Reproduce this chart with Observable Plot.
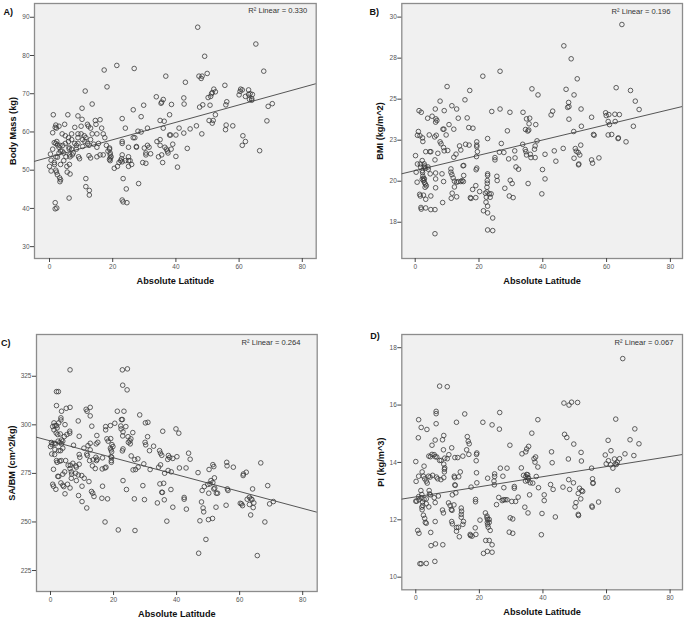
<!DOCTYPE html>
<html>
<head>
<meta charset="utf-8">
<script src="https://cdn.jsdelivr.net/npm/d3@7"></script>
<script src="https://cdn.jsdelivr.net/npm/@observablehq/plot@0.6"></script>
<style>
  body { margin: 0; background: #fff; }
  #wrap { position: relative; width: 686px; height: 621px; background: #fff; font-family: "Liberation Sans", Arial, sans-serif; }
  .panel { position: absolute; }
  .panel svg { overflow: visible; }
</style>
</head>
<body>
<div id="wrap"></div>
<script>
// ---------- DATA ----------
const xTicks = [0, 20, 40, 60, 80];
const xTitle = "Absolute Latitude";

// A) Body mass (kg) vs absolute latitude: [latitude, value]
const massPoints = [
[0.3,54.2],[0.5,52.6],[0,51.0],[0.5,49.8],[1,55.5],[1,59.8],[1.2,64.5],[1.5,57.2],[1.5,52],[1.6,51.5],
[1.8,61.2],[2,61.8],[2.2,61],[2.3,57.5],[2,57],[2.5,56.6],[2,53.5],[2.5,53.4],[2,50],[2.2,49.5],[2.5,48.8],[1.8,41.5],[1.8,39.9],[2.3,40.1],
[3,61.5],[3,56],[3.3,56.5],[3.5,55],[3,54.5],[3.5,51.5],[3.2,48],[3.5,47.5],[3.3,47],[4,59.5],[4.2,56.5],[4,55],[4.5,54.5],[4.5,52.5],
[4.8,62],[5,59],[5,57],[5.2,53.5],[5.5,51],[5.6,49.5],[5.8,64.5],[6,58.5],[6,57.5],[6.2,56],[6.2,55.6],[6.4,54],[6.5,53.5],[6.3,51.5],[6.5,49],[6.2,42.7],
[7,59.5],[7,58],[7,55.5],[7.5,54.5],[7.2,54],[8,61.2],[8,57],[8.5,56.5],[8.5,55.5],[9,64.2],[9,59.5],[9,58.5],[9,57],[9.2,53.5],[9.5,53],
[10,61.5],[10,59.5],[10.5,58],[10.5,56.2],[10.3,63.3],[10.3,66.2],[11,59],[11.2,57.5],[11.5,58.5],[11.5,47.8],[11.5,45.7],[11.3,70.7],
[12,62],[12,57],[12.3,61.5],[12.5,56.5],[12.5,53.8],[12.6,44.7],[12.6,43.5],[13,61],[13,58],[13,53.2],[13.5,67.3],[13.5,59.5],[14,56.8],
[14.5,63],[14.7,62],[15,59.5],[15,56],[15,53.5],[15.5,57],[16,63.2],[16,54],[16.5,61],[17,59.5],[17,54],[17.5,58.5],[18,56.5],[17.3,76.2],[18.2,71.8],
[18.5,55],[19,55.8],[19,55.5],[19.2,54.5],[19.2,54],[19.2,53.2],[19.2,52.5],[19,52.8],[19.5,53.5],
[20.5,50.5],[21.3,77.4],[21.5,51],[22,52],[22.5,52.5],[22.8,53],[23,63.5],[23,57.5],[23,57],[23,54],[23,52.2],[23,42.2],[23.3,41.7],[23.3,47.8],
[24,61],[24,52.5],[24.3,45.1],[24.5,41.5],[25,56],[25,53.5],[25,52.5],[25,51],[25.5,52.5],[26,51.5],
[26.5,65.8],[26.5,58.5],[26.8,76.6],[27,58.5],[27.5,56.2],[27.5,56],[28,60.2],[28.2,46.5],[29,64],[29,60],[29.5,52],[29.8,67],[30,55.8],
[30.5,54.5],[30.5,54],[30.5,51.8],[31,61],[31,56.5],[31.5,56],[32,54.3],
[33.8,69.2],[34,57.5],[34.5,53.5],[35,63],[35,58],[35,56.5],[35.5,67.8],[35.3,67.5],[35.5,54],[35.8,52],[36,68.5],[36,61],[36.3,62.8],[36.5,56],
[36.8,74.6],[37,55.5],[37.3,55],[37.5,54.5],[38,64.5],[38,59.2],[38.3,59.2],[38.5,55.5],[38.6,67.2],[39,56.8],[40,53.6],[40,59.2],[40.5,50.8],[41,61],
[42.5,68.9],[42.6,67.3],[42.5,59.7],[43,73],[43.6,55.7],[44.5,60.8],[46.9,87.4],[46.5,61.6],[47.3,74.6],[47.5,66.5],[48,74],[48.3,74.6],[48.2,59.5],
[48.5,67.1],[49.1,79.8],[49.9,75.3],[50.2,69],[50.5,63],[50.8,67],[51,69.3],[51.3,70],[51.5,62.3],[51.8,63],[51.5,70.3],[52,71.2],[52.5,70.5],[52.5,64.5],
[55.5,72.2],[55.8,67.1],[55.9,61.8],[55.7,60.6],[56.1,67.9],[58,61.6],[60,69.7],[60.3,70.6],[60.5,71.2],[61,71],[61.2,59],[61,56.5],[62,57.5],
[62,69.3],[63,71],[63,69.8],[63.3,68.5],[63.5,70],[64,68.7],[64,68.3],[64.2,69.8],[65.3,83],[66.5,55.1],[67.8,75.9],[68.8,62.9],[69.2,66.7],[70.5,67.4]
];
const massTicks = [30, 40, 50, 60, 70, 80, 90];
const massFit = { intercept: 53.4, slope: 0.228 };
const massR2 = "0.330";

// B) BMI (kg/m^2) vs absolute latitude
const bmiPoints = [
[64.8,29.55],[46.6,28.25],[48.9,27.46],[26.6,26.7],[21.2,26.4],[50.8,26.24],[10,25.77],[36.6,25.63],[47.3,25.6],[63,25.7],[67.5,25.53],
[17.1,25.53],[49.8,25.26],[38.5,25.26],[15.6,24.96],[7.8,24.88],[69,24.88],[48.1,24.8],[48.2,24.55],[47.8,24.5],[11.5,24.6],[1.2,24.3],[1.9,24.2],
[13,24.4],[6.3,24.4],[9.1,24.3],[26.6,24.4],[24,24.25],[29.7,24.2],[33.8,24.2],[43.1,24.27],[42.6,24.04],[52,24.4],[70.2,24.37],
[59.7,24.17],[60.7,24.06],[62.6,24.08],[64,24.06],[59.9,24.0],[55.3,23.9],[5.3,23.96],[6.5,23.8],[6.8,23.7],[6.4,23.6],[3.9,23.84],[13.5,23.84],
[16.3,23.86],[48.2,23.78],[34.9,23.8],[35.9,23.84],[10.6,23.45],[8.7,23.17],[9.0,23.17],[12.1,23.17],[16.8,23.27],[18.1,23.23],[34.6,23.15],
[35.7,23.5],[35.6,23.12],[35.3,23.06],[37.8,23.45],[28.9,23.07],[49.7,23.03],[52.1,23.35],[60.5,23.64],[60.9,23.45],[62.7,23.64],[68.4,23.35],
[1,23.03],[0.7,22.8],[6.6,22.8],[6.1,22.7],[1.5,22.77],[4.4,22.82],[9.7,22.82],[55.9,22.85],[56.1,22.8],[60.5,22.82],[61.6,22.85],[63.7,22.64],[66.1,22.4],
[2.3,22.64],[2.4,22.42],[7.8,22.4],[8.1,22.28],[8.9,22.05],[9.1,21.85],[10.2,21.87],[4.6,21.8],[4.9,21.8],[3.3,21.8],[7.1,21.7],[13.9,22.15],
[14.3,21.9],[12.8,21.65],[12.1,21.46],[15.8,22.25],[16.9,22.2],[19.3,22.4],[19.3,22.2],[19.3,22.1],[19.5,21.8],[19.2,21.5],[22.7,22.6],[27,22.3],
[27.8,21.75],[25,21.44],[25,21.3],[26.4,21.77],[29.3,21.36],[31.2,21.85],[31.3,21.42],[33.7,22.25],[34.5,21.93],[34.7,21.8],[34.9,21.6],[36.1,21.64],
[36.3,21.44],[37.6,22.15],[37.4,21.95],[37.6,21.44],[38.2,22.46],[40.7,21.64],[43.6,21.85],[44.1,21.22],[46.4,22.0],[50.2,21.99],[50.5,21.83],
[49.8,21.4],[51.1,21.75],[51.6,21.6],[51.3,21.05],[51.2,21.0],[51.9,22.2],[57.6,21.42],[55.3,21.3],[55.6,21.1],[63.6,22.6],
[0.1,21.56],[0.7,21.05],[0.3,20.55],[1.6,21.05],[1.7,20.85],[2.2,21.26],[2.8,21.06],[3.0,20.93],[2.8,20.85],[3.2,20.79],[4,20.87],[4.1,20.73],[4.7,20.45],
[2.2,20.65],[2.3,20.53],[2.4,20.31],[2.6,20.18],[2.2,20.12],[2.6,20.04],[2.9,20.14],[2.9,19.92],[3.2,19.82],[3.5,19.72],[3.1,19.63],
[0.6,19.94],[1.4,19.2],[1.6,19.1],[2.6,19.15],[1.8,18.4],[1.9,18.3],[3.3,18.37],[4.9,18.27],[6.2,18.27],[4.9,19.1],[3.3,18.9],
[6.4,20.5],[6.4,20.14],[6.4,19.6],[6.2,21.3],[8.4,20.45],[8.9,19.98],[8.6,18.7],[11.2,20.75],[11.2,20.55],[11.5,20.4],[11.6,19.27],[11.3,18.96],
[11.9,20.2],[12.3,20.0],[13,19.94],[13.5,19.98],[14.3,19.98],[14.7,20.04],[15.1,19.98],[15.2,20.35],[13,19.05],[12.3,19.65],[15.2,20.96],[15.0,20.94],
[17.3,19.0],[17.5,18.95],[18,19.5],[19,19.73],[19,19.0],[19.3,20.8],[19.1,20.7],[20.2,19.37],[21.4,18.2],[22.0,19.27],[22.3,19.03],[22.7,20.45],[22.7,20.35],
[22.6,20.04],[22.6,19.88],[22.5,19.63],[22.5,19.35],[22.2,18.72],[22.7,18.48],[22.7,18.07],[23.5,19.02],[23.2,19.23],[23.8,19.23],
[24.3,17.76],[22.7,17.03],[24.3,16.99],[6.2,16.8],[25.7,20.04],[25.6,20.3],[28.1,19.57],[29.8,20.06],[29.5,19.1],[30.7,19.0],[30.4,19.86],
[31.6,20.87],[32.4,20.73],[35.4,19.86],[39.7,19.23],[39.9,20.71],[40.7,20.14]
];
const bmiTicks = [17.5, 20, 22.5, 25, 27.5, 30];
const bmiTickLabels = ["18", "20", "23", "25", "28", "30"];
const bmiFit = { intercept: 20.65, slope: 0.0466 };
const bmiR2 = "0.196";

// C) SA/BM (cm^2/kg) vs absolute latitude
const sabmPoints = [
[6.2,328.3],[22.8,328.3],[24.4,328.8],[22.9,320.4],[24.3,318],[1.9,317.1],[2.5,317.1],[1.9,309.9],[6.2,309],[5,308.5],[3.5,307],
[11.3,308],[11.6,307],[12.6,309],[12.6,304.6],[21.2,307],[23.3,307],[28.3,305.1],[3.3,303.6],[3.3,302.5],[8.8,302],[22.5,302.7],[22.8,302.7],
[30.1,301],[30.9,301.3],[20.4,300.8],[19,299.6],[17.5,299.1],[17.5,297.4],[22.3,299.4],[23.9,299.1],[13.1,299.3],
[1.1,301],[1.4,299.6],[1.9,299.6],[2.1,298.4],[2.6,301],[0.7,299.1],[1.1,297.4],[4.6,300.1],[39.8,297.9],[40.7,295.7],[35.6,296.7],
[6.1,296.7],[6.1,295.7],[22.4,297.9],[23,296.4],[22.9,294.3],[26.1,296],[1.8,295.8],[2.3,295],[3.1,295.3],[4.4,294],[5.2,295],[9.1,294.1],[14.7,294.5],
[24.6,293.9],[25.5,292.8],[25.2,291.7],[24.7,291.0],[25.3,290.2],[30.8,293.9],[17.9,292.8],[19.1,292.9],[18.3,291.6],
[0.3,290.9],[1.2,290.5],[1.6,290.2],[2.4,291.6],[3,290.9],[3.5,292.2],[3.5,290.2],[3.9,291.6],[0,288.8],[0.5,289.8],[15,291],[14.5,290.2],
[12.6,290.5],[19.5,289.8],[19.8,288.8],[30,291],[30.2,289.7],[32.7,289],[7.3,289.5],[11.9,289.3],[1.4,287.3],[3.9,288],[10.6,288],[12.6,287.1],
[19,288],[19.2,287.1],[19.4,286.1],[23,287.6],[22.8,286.6],[31.4,286.7],[34.6,286.7],[34.9,285.4],[35.3,284.3],[43.8,285.4],[25.6,284],
[0.4,285],[1.3,284.7],[2.6,286.7],[3.2,286.7],[9.1,284.7],[9.3,283.3],[11.5,285],[11.7,284.2],[14.4,283.3],[14.8,282.3],[14.6,281.6],[16.5,283],
[13.5,282],[19.4,283.3],[19.2,283.6],[37.4,284.2],[37.8,283.2],[37.2,282.2],[38.8,282.7],[40.1,283.6],[44.3,282.3],[26.7,282.1],[19.3,281.6],[19.3,280.7],
[1.9,281.6],[3.4,281.6],[2.9,281.3],[4.8,281.6],[2.1,280.7],[12.4,281.6],[27.7,282.5],[29.6,279.9],[34.9,279.4],[34.3,278.2],[27.8,278.2],[31.6,277],
[27,277],[26.2,276.8],[40.9,277.8],[43,277.8],[37.3,276.5],[38.3,275.8],[36.2,275.1],[0.95,277.1],[7.1,280.2],[6.3,279.2],[8,278.9],[8.2,278.2],
[6.2,277.5],[9.1,279.7],[5.6,279.2],[13.3,278.9],[14.2,277.5],[17.3,277.8],[17.6,278.2],[16.4,277.3],[4.5,275.8],[3.9,274.6],[6.6,275.8],[6.7,274.6],
[8,275.1],[8.8,274.2],[9.9,273.9],[8.2,271.3],[10.7,272.5],[12.2,270.8],[2.3,273.5],[2.6,273.4],[6.6,272.5],[3.3,270.1],[0.7,269.4],[0.95,268.4],[1.7,266.8],
[5.4,269.4],[10,268.4],[13,265.7],[13.4,264.8],[13.8,263.1],[23,271.3],[16.5,268.4],[16.3,262.2],[18.1,261.9],[24.1,266.7],[26.6,261.9],[29.8,261.5],
[29.3,268.7],[34.7,269.6],[35.9,269.9],[35.3,265.3],[35.5,265.2],[38.2,266.7],[36.1,261.4],[33.9,259.8],[36.9,250.4],[38.8,257.6],[42.4,262.6],[42.4,261.7],
[43.1,256.6],[46.8,275.4],[48.8,268.2],[48.1,266.2],[47.9,260.3],[48.4,257.2],[48.6,255.2],[47.4,250.6],[50.1,251.2],[51.4,251.8],[49.3,241],[47,233.9],
[50.3,277],[51.5,279.5],[51.8,278.5],[52,272.7],[50.9,271.3],[51.5,270.3],[50.6,269.6],[49.9,269.3],[52.1,267.4],[52.6,264.8],[53,264.8],[51.8,267],
[50.2,264.8],[52.5,257.6],[55.9,280.7],[56,278.9],[58,278.2],[56.1,267],[56.3,266.2],[55.7,258.6],[60.2,259.6],[60.6,259.3],[60.9,258.4],
[61.2,274.7],[61.1,273.9],[62.1,275.6],[62.4,261.7],[63.1,262.7],[63.6,261.9],[63.1,259],[63.9,261.5],[64.5,259.8],[64.3,257.4],[63.5,253.6],
[64.1,267],[66.7,280.4],[68,250],[65.6,232.7],[68.9,268.7],[69.5,259.3],[70.7,260.5],[21.5,245.9],[26.8,245.6],[17.3,250],[11.5,257.2],
[10,260.5],[8.9,263.6],[6.2,267.5],[4.6,264.5],[4.2,268.2],[3.9,268.9]
];
const sabmTicks = [225, 250, 275, 300, 325];
const sabmFit = { intercept: 291.7, slope: -0.434 };
const sabmR2 = "0.264";

// D) PI (kg/m^3) vs absolute latitude
const piPoints = [
[65.1,17.62],[7.5,16.66],[9.9,16.64],[46.6,16.07],[48.2,16.0],[49,16.1],[50.9,16.09],[6.4,15.78],[6.4,15.7],[26.4,15.74],[15.4,15.69],
[0.9,15.49],[1.7,15.22],[3.5,15.15],[12.8,15.4],[21.1,15.4],[24,15.31],[6.4,15.35],[38.4,15.49],[62.9,15.51],[68.9,15.17],[70.2,14.65],[67.4,14.79],
[0.8,14.86],[5.1,14.6],[6.1,14.78],[8.4,14.79],[8.8,14.94],[8.7,14.44],[11.3,14.51],[16.2,14.9],[16.5,14.74],[16.8,14.65],[16,14.44],[26.3,15.16],
[29.6,14.6],[35.5,14.56],[34.9,14.47],[36.5,15.02],[46.8,14.98],[47.5,14.87],[49.7,14.64],[60.5,14.77],[61.4,14.41],[0,14.03],
[4.1,14.22],[4.6,14.2],[5.1,14.28],[5.8,14.27],[6.1,14.2],[6.6,14.19],[8,14.07],[7.5,14.07],[9.1,14.15],[8.8,13.94],[9.1,13.81],[10.4,14.27],[9.9,14.13],
[12.3,14.17],[13.2,14.17],[14.8,14.22],[16.7,14.28],[19.2,14.33],[19.1,14.28],[19,14.06],[33.4,14.3],[34.6,14.37],[37.2,14.13],[37.7,14.19],[37.5,14.01],
[42.7,14.37],[42.9,13.99],[48,14.12],[52,14.35],[52.1,14.05],
[59.6,14.26],[59.9,13.95],[60.6,14.06],[62.5,14.12],[62.8,13.95],[64.1,14.13],[63.4,14.01],[63.1,13.93],[61.3,13.92],[62,13.8],[68.6,14.24],[65.8,14.3],
[0.9,13.52],[2.6,13.87],[2,13.67],[2.4,13.52],[2.8,13.43],[3.3,13.35],[3.6,13.28],[0.1,13.34],[4,13.52],[4.5,13.49],[5.3,13.55],[6.5,13.49],[6.9,13.43],
[7.9,13.4],[8.8,13.47],[9,13.76],[9,13.67],[12.1,13.52],[12.2,13.47],[13.5,13.5],[14,13.67],[12.3,13.22],[12.4,13.2],[12.6,12.94],[4.2,13.02],[4.3,12.9],
[1.6,13.02],[1.9,12.88],[19.1,13.64],[19.2,13.29],[17.4,13.14],[22.6,13.45],[24.8,13.6],[24.8,13.51],[24.6,13.35],[24.7,13.22],[26.6,13.8],[27.4,13.52],
[28.7,13.8],[27.7,13.12],[31,13.16],[31,13.1],[33.2,13.81],
[33.9,13.55],[34.6,13.51],[34.9,13.58],[35.2,13.47],[35.2,13.37],[35.5,13.45],[35.2,13.57],[34.5,13.35],[36,13.29],[36.8,13.28],[37.9,13.51],
[38.4,13.84],[38.6,13.12],[42.4,13.23],[43.2,13.06],[46.3,13.14],[48.1,13.4],[48.4,13.06],[49.6,13.29],[51.5,13.1],[51.1,12.92],[52.2,13.02],[52.5,12.99],
[55.6,13.43],[55.8,13.29],[55.7,13.27],[55.3,13.8],[63.5,13.03],
[0,12.65],[0.3,12.65],[0.9,12.81],[1,12.7],[1.7,12.77],[2.1,12.62],[2.2,12.5],[2.6,12.72],[3.3,12.73],[3.3,12.56],[1.9,12.44],[2,12.35],
[2.4,12.16],[2.8,12.05],[3,11.91],[3.3,11.88],[4.1,12.45],[4.6,12.87],[5.8,12.77],[6.1,12.6],[7.1,12.83],[8.4,12.34],[8.7,12.24],
[10.3,12.59],[10.8,12.5],[11.2,12.36],[12,12.52],[11.4,12.33],[11.5,12.87],[11.3,11.94],[11.5,11.86],[14.3,12.41],[14.4,12.3],[14.3,12.19],[14.3,12.09],
[12.8,11.73],[12.8,11.6],[13.4,11.74],[15,11.94],[14.8,11.84],[18.8,12.71],[18.8,12.63],[18.7,11.72],[17.1,11.49],[17.2,11.45],[17.7,11.43],[18.9,11.49],
[20.2,11.99],[21.9,12.24],[22.4,12.13],[22.6,12.01],[22.5,11.91],[22.6,11.83],[22.8,11.74],[22.4,12.07],[23.1,12.01],[23.1,11.91],[23.4,11.63],
[22,11.28],[23.1,11.28],[24,11.13],[21.3,10.83],[22.5,10.9],[24,10.87],[25.4,12.53],[26.1,12.78],[27.2,12.67],[27.6,12.7],[28.1,12.7],[28.7,12.7],
[30.2,12.64],[31.4,12.64],[32.2,12.79],[29.7,12.07],[30.5,12.03],[29.4,11.57],[30.5,11.53],[34.3,12.44],[35.3,12.24],[35.8,12.87],[39.7,12.22],
[40.4,12.87],[40.4,12.67],[43.9,12.1],[39.5,11.48],[50.1,12.45],[50.4,12.6],[51.1,12.19],[51.2,12.15],[51.9,12.73],[55.4,12.48],[55.5,12.44],[57.5,12.62],
[0.6,11.63],[1,11.53],[4.7,11.56],[4.8,11.1],[6.2,11.16],[8.5,11.13],[1.3,10.47],[1.7,10.47],[3.3,10.48],[6,10.55],[13.7,11.41],[6.1,11.94]
];
const piTicks = [10, 12, 14, 16, 18];
const piFit = { intercept: 12.8, slope: 0.0176 };
const piR2 = "0.067";

// ---------- DRAWING ----------
const FONT = '"Liberation Sans", Arial, Helvetica, sans-serif';

function panel(cfg) {
  const fitLine = cfg.xDomain.map(x => ({x, y: cfg.fit.intercept + cfg.fit.slope * x}));
  const fmt = cfg.tickLabels ? (d => cfg.tickLabels[cfg.yTicks.indexOf(d)]) : (d => String(d));
  const svg = Plot.plot({
    width: cfg.w, height: cfg.h,
    marginLeft: cfg.m[3], marginRight: cfg.m[1], marginTop: cfg.m[0], marginBottom: cfg.m[2],
    style: { fontFamily: FONT, background: "white", overflow: "visible" },
    x: { domain: cfg.xDomain, label: null },
    y: { domain: cfg.yDomain, label: null },
    marks: [
      Plot.frame({ fill: "#f0f0f0", stroke: "#8c8c8c", strokeWidth: 1.3 }),
      Plot.axisX({ ticks: xTicks, tickSize: 4, tickPadding: 1.5, fontSize: 6.5, fill: "#555", stroke: "#444", label: null }),
      Plot.axisY({ ticks: cfg.yTicks, tickFormat: fmt, tickSize: 4, tickPadding: 1, fontSize: 6.5, fill: "#555", stroke: "#444", label: null }),
      Plot.line(fitLine, { x: "x", y: "y", stroke: "#555", strokeWidth: 1, clip: true }),
      Plot.dot(cfg.points, { x: d => d[0], y: d => d[1], r: 2.3, stroke: "#3a3a3a", strokeWidth: 0.8, fill: "none", clip: true }),
      Plot.text([`R² Linear = ${cfg.r2}`], { frameAnchor: "top-right", textAnchor: "end", lineAnchor: "middle", dx: cfg.r2dx, dy: cfg.r2dy, fontSize: 7.6, fill: "#333" }),
      Plot.text([xTitle], { frameAnchor: "bottom", lineAnchor: "middle", dy: cfg.xTitleDy, fontSize: 9.2, fontWeight: "bold", fill: "#111" }),
      Plot.text([cfg.yTitle], { frameAnchor: "left", rotate: -90, lineAnchor: "middle", textAnchor: "middle", dx: cfg.yTitleDx, fontSize: 9.2, fontWeight: "bold", fill: "#111" }),
      Plot.text([cfg.tag], { frameAnchor: "top-left", textAnchor: "start", lineAnchor: "middle", dx: cfg.tagDx, dy: cfg.tagDy, fontSize: 9, fontWeight: "bold", fill: "#111" })
    ]
  });
  const div = document.createElement("div");
  div.className = "panel";
  div.style.left = cfg.left + "px";
  div.style.top = cfg.top + "px";
  div.appendChild(svg);
  document.getElementById("wrap").appendChild(div);
}

panel({
  points: massPoints, yTicks: massTicks, fit: massFit, r2: massR2, yTitle: "Body Mass (kg)", tag: "A)",
  left: 0, top: 0, w: 343, h: 310, m: [3, 27.3, 52, 34],
  xDomain: [-4.75, 84.4], yDomain: [26.9, 93.6],
  r2dx: -9, r2dy: 7.5, xTitleDy: 23, yTitleDx: -21.3, tagDx: -31, tagDy: 8.7
});
panel({
  points: bmiPoints, yTicks: bmiTicks, tickLabels: bmiTickLabels, fit: bmiFit, r2: bmiR2, yTitle: "BMI (kg/m^2)", tag: "B)",
  left: 343, top: 0, w: 343, h: 310, m: [3, 4, 52, 58.3],
  xDomain: [-4.2, 83.8], yDomain: [15.29, 30.83],
  r2dx: -12, r2dy: 8, xTitleDy: 23, yTitleDx: -21.6, tagDx: -32.3, tagDy: 8.7
});
panel({
  points: sabmPoints, yTicks: sabmTicks, fit: sabmFit, r2: sabmR2, yTitle: "SA/BM (cm^2/kg)", tag: "C)",
  left: 0, top: 310, w: 343, h: 311, m: [24, 26.3, 30, 36],
  xDomain: [-4.44, 84.6], yDomain: [214.2, 346.5],
  r2dx: -16.7, r2dy: 8.3, xTitleDy: 23, yTitleDx: -24.3, tagDx: -35.5, tagDy: 9
});
panel({
  points: piPoints, yTicks: piTicks, fit: piFit, r2: piR2, yTitle: "PI (kg/m^3)", tag: "D)",
  left: 343, top: 310, w: 343, h: 311, m: [24, 4, 31.7, 58.3],
  xDomain: [-4.4, 83.9], yDomain: [9.56, 18.46],
  r2dx: -9, r2dy: 7.7, xTitleDy: 22.4, yTitleDx: -21, tagDx: -31.6, tagDy: 1.5
});
</script>
</body>
</html>
